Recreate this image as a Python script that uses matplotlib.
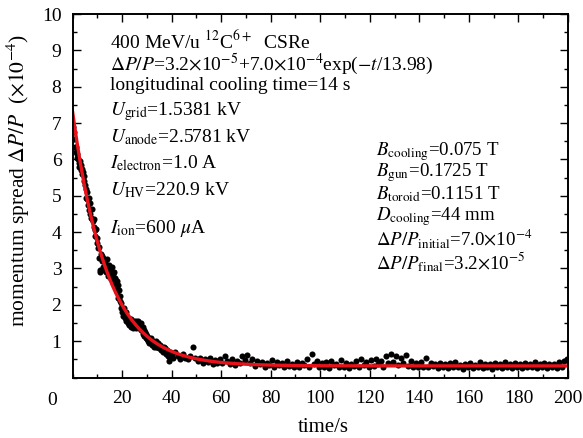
import matplotlib
matplotlib.use("Agg")
import matplotlib.pyplot as plt
import numpy as np

plt.rcParams['font.family'] = ['Liberation Serif', 'DejaVu Serif']
plt.rcParams['mathtext.fontset'] = 'stix'

# momentum spread (units of 1e-4) during the fast decay, sampled every 0.25 s, t = 0.25 .. 40
spread_early = [
    6.90, 6.75, 6.55, 6.35,  6.20, 6.35, 6.05, 6.15,  6.00, 5.90, 5.80, 5.95,
    5.85, 5.70, 5.60, 5.75,  5.65, 5.40, 5.55, 5.30,  5.20, 4.95, 5.10, 4.90,
    4.75, 4.95, 4.60, 4.80,  4.50, 4.40, 4.65, 4.35,  4.30, 4.15, 4.35, 4.05,
    3.90, 4.10, 3.70, 3.85,  3.55, 3.30, 3.60, 2.95,  2.90, 3.40, 3.20, 3.35,
    3.05, 3.30, 2.95, 3.20,  3.15, 2.90, 3.25, 3.00,  3.05, 2.80, 3.10, 2.85,
    2.95, 2.70, 3.05, 2.75,  2.85, 2.60, 2.90, 2.70,  2.75, 2.50, 2.65, 2.35,
    2.55, 2.20, 2.40, 2.10,  2.25, 1.90, 2.05, 1.80,  1.85, 1.70, 1.90, 1.65,
    1.75, 1.55, 1.80, 1.60,  1.50, 1.65, 1.45, 1.60,  1.55, 1.40, 1.60, 1.45,
    1.50, 1.35, 1.55, 1.40,  1.45, 1.55, 1.35, 1.50,  1.40, 1.55, 1.35, 1.50,
    1.45, 1.30, 1.50, 1.35,  1.40, 1.20, 1.30, 1.15,  1.25, 1.10, 1.20, 1.05,
    1.15, 1.00, 1.10, 0.95,  1.05, 0.95, 1.10, 0.90,  0.95, 1.00, 0.85, 0.95,
    0.90, 1.00, 0.85, 0.95,  0.85, 0.95, 0.80, 0.90,  0.80, 0.90, 0.75, 0.85,
    0.80, 0.70, 0.85, 0.75,  0.70, 0.80, 0.65, 0.75,  0.70, 0.60, 0.45, 0.65,
    0.55, 0.70, 0.60, 0.65,
]
# slow tail, one sample per second, t = 40.5 .. 199.5
spread_tail = [
    0.55, 0.70, 0.60, 0.50, 0.65, 0.55, 0.50, 0.60, 0.85, 0.55,
    0.45, 0.55, 0.40, 0.50, 0.42, 0.55, 0.38, 0.48, 0.40, 0.52,
    0.40, 0.58, 0.45, 0.38, 0.50, 0.35, 0.45, 0.40, 0.60, 0.48,
    0.62, 0.40, 0.50, 0.32, 0.45, 0.38, 0.42, 0.30, 0.40, 0.35,
    0.48, 0.30, 0.42, 0.35, 0.40, 0.28, 0.45, 0.32, 0.38, 0.30,
    0.42, 0.28, 0.40, 0.35, 0.50, 0.30, 0.65, 0.38, 0.45, 0.28,
    0.40, 0.30, 0.42, 0.25, 0.45, 0.35, 0.38, 0.28, 0.48, 0.30,
    0.40, 0.25, 0.38, 0.32, 0.45, 0.28, 0.50, 0.35, 0.42, 0.30,
    0.48, 0.32, 0.52, 0.38, 0.45, 0.30, 0.58, 0.40, 0.65, 0.42,
    0.60, 0.35, 0.55, 0.40, 0.62, 0.32, 0.45, 0.30, 0.40, 0.28,
    0.42, 0.30, 0.55, 0.28, 0.40, 0.32, 0.38, 0.25, 0.40, 0.30,
    0.36, 0.25, 0.40, 0.28, 0.42, 0.30, 0.35, 0.24, 0.38, 0.28,
    0.40, 0.26, 0.35, 0.30, 0.42, 0.25, 0.38, 0.28, 0.36, 0.24,
    0.40, 0.28, 0.38, 0.25, 0.42, 0.30, 0.36, 0.26, 0.40, 0.28,
    0.38, 0.25, 0.40, 0.28, 0.36, 0.30, 0.42, 0.26, 0.38, 0.28,
    0.40, 0.26, 0.38, 0.30, 0.36, 0.25, 0.42, 0.30, 0.45, 0.52,
]
time_early = 0.25 * (np.arange(len(spread_early)) + 1)
time_tail = 40.5 + np.arange(len(spread_tail))

# fit parameters printed on the chart
final_spread = 0.32
initial_amp = 7.0
tau = 13.98

fig = plt.figure(figsize=(5.83, 4.38), dpi=100)
ax = fig.add_axes([0.1244, 0.138, 0.8499, 0.830])

for t, v in ((time_early, spread_early), (time_tail, spread_tail)):
    ax.plot(t, v, 'o', color='black', markersize=4.4, markeredgewidth=0)
tt = np.linspace(0, 200, 400)
ax.plot(tt, final_spread + initial_amp * np.exp(-tt / tau), color='#e8121a', lw=2.4)

ax.set_xlim(0, 200)
ax.set_ylim(0, 10)
ax.set_xticks(np.arange(20, 201, 20))
ax.set_xticks(np.arange(0, 201, 10), minor=True)
ax.set_yticks(np.arange(1, 11, 1))
ax.set_yticks(np.arange(0, 10.1, 0.5), minor=True)
ax.tick_params(which='both', direction='in', top=True, right=True, width=1.0, labelsize=14)
ax.tick_params(which='major', length=6)
ax.tick_params(which='minor', length=3)
ax.tick_params(axis='x', pad=9)
ax.tick_params(axis='y', pad=8)
for s in ax.spines.values():
    s.set_linewidth(1.4)

ax.text(-8.3, -0.62, '0', fontsize=14, ha='center', va='center', clip_on=False)
fig.text(323 / 583, 1 - 428 / 438, 'time/s', fontsize=15, ha='center', va='center')
fig.text(18 / 583, 1 - 180 / 438, r'momentum spread $\Delta P/P$  ($\times10^{-4}$)',
         fontsize=15.5, rotation=90, ha='center', va='center')

fs = 14
left_lines = [
    (9.25, r'400 MeV/u $^{12}$C$^{6+}$  CSRe'),
    (8.62, r'$\Delta P/P$=3.2$\times$10$^{-5}$+7.0$\times$10$^{-4}$exp($-t$/13.98)'),
    (8.02, 'longitudinal cooling time=14 s'),
    (7.33, r'$U_{\rm grid}$=1.5381 kV'),
    (6.61, r'$U_{\rm anode}$=2.5781 kV'),
    (5.90, r'$I_{\rm electron}$=1.0 A'),
    (5.16, r'$U_{\rm HV}$=220.9 kV'),
    (4.09, r'$I_{\rm ion}$=600 $\mu$A'),
]
for y, s in left_lines:
    ax.text(15.1, y, s, fontsize=fs, ha='left', va='center')

right_lines = [
    (6.22, r'$B_{\rm cooling}$=0.075 T'),
    (5.63, r'$B_{\rm gun}$=0.1725 T'),
    (5.04, r'$B_{\rm toroid}$=0.1151 T'),
    (4.44, r'$D_{\rm cooling}$=44 mm'),
    (3.83, r'$\Delta P/P_{\rm initial}$=7.0$\times$10$^{-4}$'),
    (3.17, r'$\Delta P/P_{\rm final}$=3.2$\times$10$^{-5}$'),
]
for y, s in right_lines:
    ax.text(122.5, y, s, fontsize=13.6, ha='left', va='center')

fig.savefig('out.png', dpi=100)
